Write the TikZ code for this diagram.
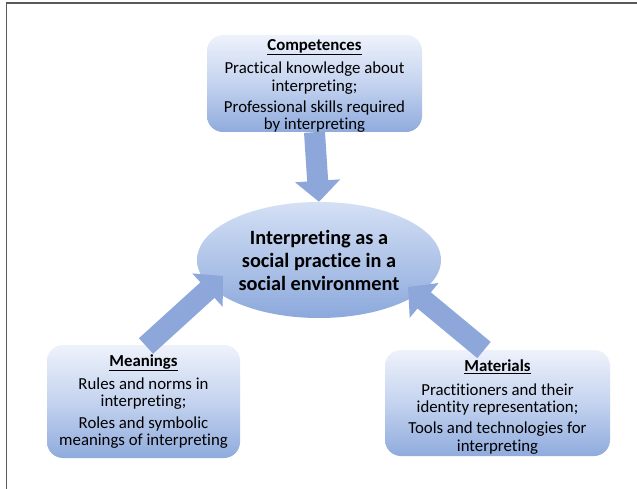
\documentclass[tikz,border=0pt]{standalone}
\usepackage{fontspec}
\setmainfont{Carlito}[Ligatures=NoCommon]
\usetikzlibrary{arrows.meta,shapes.geometric}

\definecolor{boxtop}{HTML}{EEF2FB}
\definecolor{boxmid}{HTML}{C4D3EF}
\definecolor{boxbot}{HTML}{8FABDD}
\definecolor{hubtop}{HTML}{D4E0F5}
\definecolor{hubbot}{HTML}{8CA9DC}
\definecolor{arrowblue}{HTML}{8EA7DB}
\definecolor{framegray}{HTML}{5A5A5A}

\tikzset{
  infobox/.style={rounded corners=16pt, draw=none,
    top color=boxtop, bottom color=boxbot, middle color=boxmid,
    align=center, inner sep=0pt,
    font=\fontsize{16.8}{17.3}\selectfont},
  boxtext/.style={align=center, inner sep=0pt,
    font=\fontsize{16.8}{17.3}\selectfont},
  hubnode/.style={ellipse, draw=none, top color=hubtop, bottom color=hubbot,
    minimum width=244pt, minimum height=116pt, inner sep=0pt,
    align=center, font=\fontsize{20.3}{23}\selectfont\bfseries},
  bigarrow/.style={draw=arrowblue, line width=21pt,
    -{Triangle[width=44pt,length=21pt]}, line cap=butt}
}

\begin{document}
\begin{tikzpicture}[x=1pt,y=-1pt]
  \useasboundingbox (0,0) rectangle (637,489);
  \fill[white] (0,0) rectangle (637,489);

  % page frame (top and left edges)
  \draw[framegray, line width=1.6pt] (6.5,489) -- (6.5,3) -- (637,3);

  % central concept
  \node[hubnode] (hub) at (319,260)
    {Interpreting as a\\social practice in a\\social environment};

  % the three elements
  \node[infobox, minimum width=215pt, minimum height=97pt] (comp) at (314.5,83.5) {};
  \node[boxtext] (comptext) at (314.5,86)
    {\underline{\textbf{Competences}}\\[6pt]
     Practical knowledge about\\interpreting;\\[4pt]
     Professional skills required\\by interpreting};

  \node[infobox, minimum width=193pt, minimum height=113pt] (mean) at (143.5,401.5) {};
  \node[boxtext] (meantext) at (143.5,401.5)
    {\underline{\textbf{Meanings}}\\[6pt]
     Rules and norms in\\interpreting;\\[4pt]
     Roles and symbolic\\meanings of interpreting};

  \node[infobox, minimum width=225pt, minimum height=106pt] (mat) at (497.5,403) {};
  \node[boxtext] (mattext) at (497.5,407)
    {\underline{\textbf{Materials}}\\[6pt]
     Practitioners and their\\identity representation;\\[4pt]
     Tools and technologies for\\interpreting};

  % arrow end points
  \coordinate (meanstart) at (146,346);
  \coordinate (meantip) at (223,276);
  \coordinate (matstart) at (484,350);
  \coordinate (mattip) at (408,287);

  % arrows into the centre
  \draw[bigarrow] (comp.south) -- (hub.north);
  \draw[bigarrow] (meanstart) -- (meantip);
  \draw[bigarrow] (matstart) -- (mattip);
\end{tikzpicture}
\end{document}
